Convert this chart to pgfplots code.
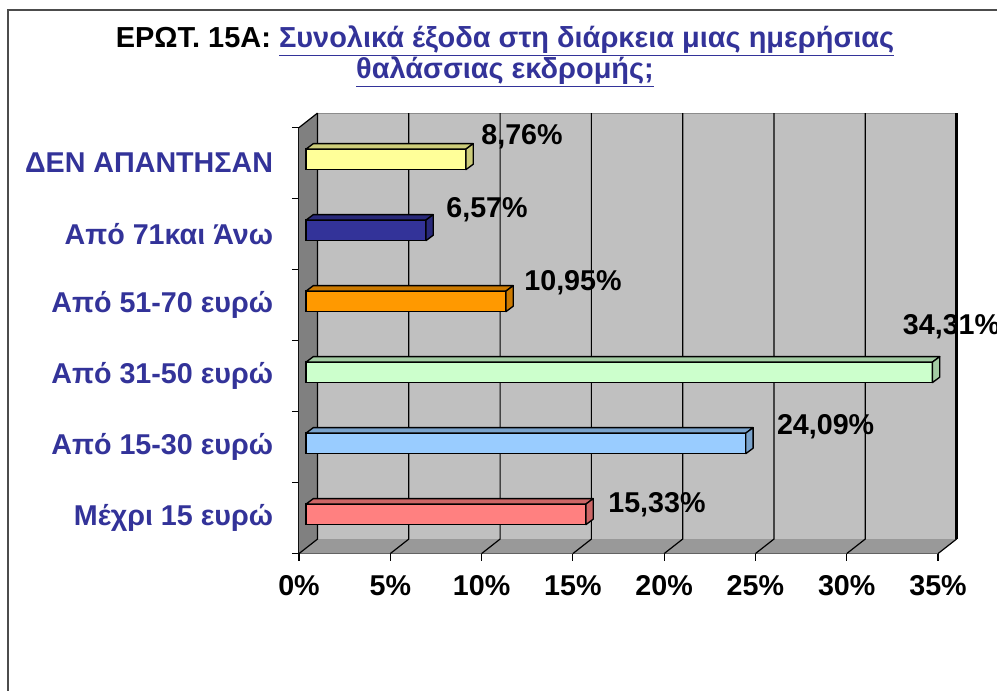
\documentclass[border=0pt]{standalone}
\usepackage{fontspec}
\setmainfont{Liberation Sans}
\usepackage{pgfplots}
\pgfplotsset{compat=1.18}

\definecolor{lblblue}{HTML}{333399}
\definecolor{barred}{HTML}{FF8080}
\definecolor{barblue}{HTML}{99CCFF}
\definecolor{bargreen}{HTML}{CCFFCC}
\definecolor{barorange}{HTML}{FF9900}
\definecolor{barnavy}{HTML}{333399}
\definecolor{baryellow}{HTML}{FFFF99}
\definecolor{wallback}{HTML}{C0C0C0}
\definecolor{wallside}{HTML}{808080}
\definecolor{wallfloor}{HTML}{999999}

\newcommand\lblfont{\fontsize{21.5}{25}\selectfont\bfseries}
\newcommand\titlefont{\fontsize{21.7}{25}\selectfont\bfseries}

% px -> pt: 0.75 ; 1 % = 13.693pt
\pgfplotsset{
  front/.style={xbar, bar width=15.4pt, fill=#1, draw=black, line width=1pt,
    xshift=5.25pt, yshift=2.8pt, point meta=x,
    nodes near coords={\pgfmathprintnumber[fixed,fixed zerofill,precision=2,use comma]{\pgfplotspointmeta}\%},
    every node near coord/.append style={anchor=west, inner sep=0pt, font=\lblfont, text=black}},
  depth/.style={only marks, mark=*, mark size=0pt, mark options={draw=none,fill=none},
    forget plot, xshift=5.25pt, yshift=2.8pt, scatter,
    visualization depends on={rawx \as \blen},
    scatter/@pre marker code/.code={%
      \pgfmathsetlengthmacro\barL{\blen*13.693pt}%
      \filldraw[fill=#1!80!black, draw=black, line width=1pt, line join=round]
        (-\barL,7.7pt) -- (0pt,7.7pt) -- (5.5pt,11.8pt) -- ({5.5pt-\barL},11.8pt) -- cycle;
      \filldraw[fill=#1!80!black, draw=black, line width=1pt, line join=round]
        (0pt,-7.7pt) -- (5.5pt,-3.6pt) -- (5.5pt,11.8pt) -- (0pt,7.7pt) -- cycle;
    },
    scatter/@post marker code/.code={}},
  lbl/.style 2 args={every node near coord/.append style={xshift=#1, yshift=#2}}
}

\begin{document}
\begin{tikzpicture}[x=0.75pt,y=0.75pt]
\clip (0,0) rectangle (997,690);
\useasboundingbox (0,0) rectangle (997,690);

\draw[line width=1.5pt, black!70] (8,-10) -- (8,680) -- (1010,680);

\node[font=\titlefont] at (505,649)
  {ΕΡΩΤ. 15Α: \textcolor{lblblue}{\underline{Συνολικά έξοδα στη διάρκεια μιας ημερήσιας}}};
\node[font=\titlefont] at (505,618)
  {\textcolor{lblblue}{\underline{θαλάσσιας εκδρομής;}}};

\begin{axis}[
  at={(224.25pt,102.3pt)}, anchor=south west,
  scale only axis, width=479.25pt, height=319.5pt,
  xmin=0, xmax=35, ymin=-0.5, ymax=5.5,
  clip=false,
  axis x line*=bottom, axis y line*=left,
  axis line style={black, line width=0.8pt},
  tick align=outside, major tick length=5.25pt,
  tick style={black, line width=0.8pt},
  /pgf/number format/assume math mode=true,
  xtick={0,5,...,35},
  xticklabel={\pgfmathprintnumber{\tick}\%},
  xticklabel style={font=\lblfont, inner sep=0pt, yshift=-11pt},
  ytick={-0.5,0.5,...,5.5},
  y tick label as interval,
  yticklabels={Μέχρι 15 ευρώ, Από 15-30 ευρώ, Από 31-50 ευρώ, Από 51-70 ευρώ, Από 71και Άνω, ΔΕΝ ΑΠΑΝΤΗΣΑΝ},
  yticklabel style={font=\lblfont, text=lblblue, inner sep=0pt, xshift=-14pt},
]
% walls and floor (depth offset 13.9pt, 10.9pt)
\fill[wallback] ([shift={(13.9pt,10.9pt)}]axis cs:0,-0.5) rectangle ([shift={(13.9pt,10.9pt)}]axis cs:35,5.5);
\fill[wallfloor] (axis cs:0,-0.5) -- (axis cs:35,-0.5) -- ([shift={(13.9pt,10.9pt)}]axis cs:35,-0.5) -- ([shift={(13.9pt,10.9pt)}]axis cs:0,-0.5) -- cycle;
\fill[wallside] (axis cs:0,-0.5) -- ([shift={(13.9pt,10.9pt)}]axis cs:0,-0.5) -- ([shift={(13.9pt,10.9pt)}]axis cs:0,5.5) -- (axis cs:0,5.5) -- cycle;
\draw[black!45, line width=0.8pt] ([shift={(13.9pt,10.9pt)}]axis cs:0,5.5) -- ([shift={(13.9pt,10.9pt)}]axis cs:35,5.5);
\draw[black, line width=0.9pt] (axis cs:0,5.5) -- ([shift={(13.9pt,10.9pt)}]axis cs:0,5.5);
\pgfplotsinvokeforeach{0,5,...,35}{
  \draw[black, line width=0.9pt] (axis cs:#1,-0.5) -- ([shift={(13.9pt,10.9pt)}]axis cs:#1,-0.5) -- ([shift={(13.9pt,10.9pt)}]axis cs:#1,5.5);
}
\draw[black, line width=1.6pt] ([shift={(13.9pt,10.9pt)}]axis cs:35,-0.5) -- ([shift={(13.9pt,10.9pt)}]axis cs:35,5.5);

% bars: Μέχρι 15 ευρώ .. ΔΕΝ ΑΠΑΝΤΗΣΑΝ
\addplot[front=barred, lbl={16.35pt}{7.05pt}] coordinates {(15.33,0)};
\addplot[depth=barred] coordinates {(15.33,0)};
\addplot[front=barblue, lbl={22.9pt}{12.3pt}] coordinates {(24.09,1)};
\addplot[depth=barblue] coordinates {(24.09,1)};
\addplot[front=bargreen, lbl={-22.6pt}{34.5pt}] coordinates {(34.31,2)};
\addplot[depth=bargreen] coordinates {(34.31,2)};
\addplot[front=barorange, lbl={13.35pt}{13.65pt}] coordinates {(10.95,3)};
\addplot[depth=barorange] coordinates {(10.95,3)};
\addplot[front=barnavy, lbl={14.8pt}{15.6pt}] coordinates {(6.57,4)};
\addplot[depth=barnavy] coordinates {(6.57,4)};
\addplot[front=baryellow, lbl={11.1pt}{17.25pt}] coordinates {(8.76,5)};
\addplot[depth=baryellow] coordinates {(8.76,5)};
\end{axis}
\end{tikzpicture}
\end{document}
